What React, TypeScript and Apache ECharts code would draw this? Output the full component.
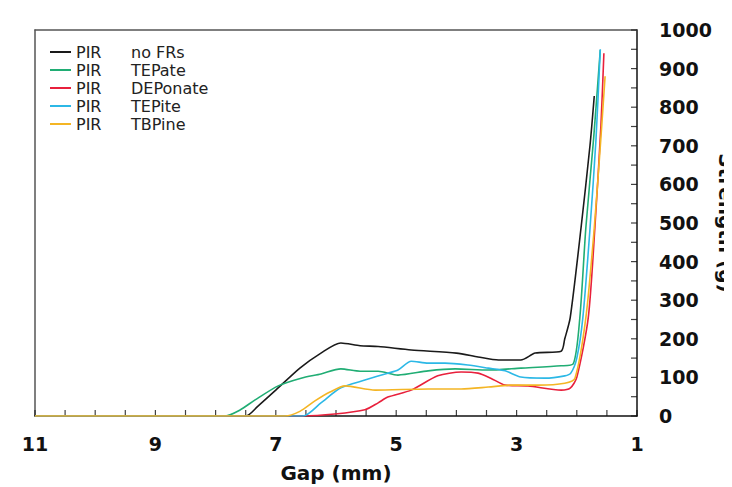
import React, { useEffect, useRef } from "react";
import * as echarts from "echarts";

const seriesNames = ["PIR no FRs", "PIR TEPate", "PIR DEPonate", "PIR TEPite", "PIR TBPine"];
const seriesColors = ["#1a1a1a", "#20ad74", "#e8203c", "#2cb8e6", "#f4b524"];

const noFrGap = [11, 7.5, 7.3, 7.0, 6.6, 6.25, 5.92, 5.6, 5.3, 4.75, 4.0, 3.64, 3.3, 2.93, 2.69, 2.26, 2.2, 2.11, 1.93, 1.78, 1.71];
const noFrVal = [0, 0, 25, 67, 124, 163, 189, 182, 180, 171, 163, 153, 145, 145, 163, 168, 200, 254, 487, 702, 829];

const tepateGap = [11, 7.84, 7.6, 7.35, 6.96, 6.58, 6.25, 5.92, 5.6, 5.3, 4.97, 4.47, 4.02, 3.47, 2.93, 2.26, 2.06, 1.95, 1.85, 1.72, 1.61];
const tepateVal = [0, 0, 15, 41, 78, 98, 109, 122, 116, 116, 106, 117, 122, 119, 124, 130, 135, 254, 487, 720, 948];

const deponateGap = [11, 6.55, 6.02, 5.52, 5.3, 5.14, 4.75, 4.31, 3.92, 3.64, 3.43, 3.19, 2.81, 2.26, 2.11, 2.0, 1.81, 1.7, 1.6, 1.55];
const deponateVal = [0, 0, 5, 16, 34, 49, 67, 104, 114, 111, 98, 80, 78, 67, 72, 100, 254, 487, 750, 940];

const tepiteGap = [11, 6.55, 6.25, 5.92, 5.52, 5.14, 4.97, 4.75, 4.47, 4.19, 3.81, 3.47, 3.19, 2.93, 2.53, 2.2, 2.1, 2.0, 1.9, 1.78, 1.68, 1.61];
const tepiteVal = [0, 0, 34, 73, 93, 111, 119, 142, 137, 137, 132, 124, 117, 101, 98, 104, 111, 150, 254, 487, 720, 950];

const tbpineGap = [11, 6.85, 6.6, 6.35, 6.1, 5.85, 5.35, 4.47, 3.92, 3.47, 3.09, 2.64, 2.2, 2.03, 1.85, 1.71, 1.6, 1.53];
const tbpineVal = [0, 0, 12, 39, 62, 78, 67, 70, 70, 75, 80, 80, 85, 98, 254, 487, 720, 880];

const gapSets = [noFrGap, tepateGap, deponateGap, tepiteGap, tbpineGap];
const valSets = [noFrVal, tepateVal, deponateVal, tepiteVal, tbpineVal];

const xTickValues = [1, 1.5, 2, 2.5, 3, 3.5, 4, 4.5, 5, 5.5, 6, 6.5, 7, 7.5, 8, 8.5, 9, 9.5, 10, 10.5, 11];
const yTickValues = [0, 50, 100, 150, 200, 250, 300, 350, 400, 450, 500, 550, 600, 650, 700, 750, 800, 850, 900, 950, 1000];

const xTicks = { min: 1, max: 11, interval: 0.5 };
const yTicks = { min: 0, max: 1000, interval: 50 };

export default function App() {
  const ref = useRef<HTMLDivElement>(null);
  useEffect(() => {
    if (!ref.current) return;
    const chart = echarts.init(ref.current, null, { renderer: "svg" });
    const boldFont = "DejaVu Sans";
    const frameAxis = {
      type: "value",
      axisLine: { show: true, onZero: false, lineStyle: { color: "#555555", width: 1.5 } },
      axisTick: { show: false },
      axisLabel: { show: false },
      splitLine: { show: false },
    };
    chart.setOption({
      animation: false,
      backgroundColor: "#ffffff",
      tooltip: { show: false },
      grid: {
        left: 27,
        right: 103,
        top: 22,
        bottom: 79,
        show: false,
        outerBoundsMode: "none",
        containLabel: false,
      },
      legend: {
        orient: "vertical",
        left: 37,
        top: 31,
        icon: "rect",
        itemWidth: 21,
        itemHeight: 2,
        itemGap: 2,
        data: seriesNames,
        formatter: (name: string) => `{a|PIR}{b|${name.slice(4)}}`,
        textStyle: {
          fontFamily: "DejaVu Sans",
          fontSize: 16,
          color: "#222",
          rich: {
            a: { width: 55, fontFamily: "DejaVu Sans", fontSize: 16, color: "#222", lineHeight: 17 },
            b: { fontFamily: "DejaVu Sans", fontSize: 16, color: "#222", lineHeight: 17 },
          },
        },
      },
      xAxis: [
        {
          type: "value",
          position: "bottom",
          inverse: true,
          min: xTicks.min,
          max: xTicks.max,
          interval: xTicks.interval,
          name: "Gap (mm)",
          nameLocation: "middle",
          nameGap: 47,
          nameMoveOverlap: false,
          nameTextStyle: { fontFamily: boldFont, fontWeight: "bold", fontSize: 20, color: "#111" },
          axisLine: { show: true, onZero: false, lineStyle: { color: "#111", width: 1.5 } },
          axisTick: { show: false },
          splitLine: { show: false },
          axisLabel: {
            margin: 18,
            interval: 0,
            fontFamily: boldFont,
            fontWeight: "bold",
            fontSize: 19,
            color: "#111",
            formatter: (v: number) => (Math.abs(v % 2 - 1) < 1e-6 ? String(v) : ""),
          },
        },
        { ...frameAxis, position: "top", inverse: true, min: xTicks.min, max: xTicks.max },
      ],
      yAxis: [
        {
          type: "value",
          position: "right",
          min: yTicks.min,
          max: yTicks.max,
          interval: yTicks.interval,
          name: "Strength (g)",
          nameLocation: "middle",
          nameRotate: -90,
          nameGap: 79,
          nameMoveOverlap: false,
          nameTextStyle: { fontFamily: boldFont, fontWeight: "bold", fontSize: 20, color: "#111" },
          axisLine: { show: true, onZero: false, lineStyle: { color: "#111", width: 1.5 } },
          axisTick: { show: false },
          splitLine: { show: false },
          axisLabel: {
            margin: 22,
            interval: 0,
            fontFamily: boldFont,
            fontWeight: "bold",
            fontSize: 19,
            color: "#111",
            formatter: (v: number) => (v % 100 === 0 ? String(v) : ""),
          },
        },
        { ...frameAxis, position: "left", min: yTicks.min, max: yTicks.max },
      ],
      series: [
        ...seriesNames.map((name, i) => ({
          name,
          type: "line",
          xAxisIndex: 0,
          yAxisIndex: 0,
          symbol: "none",
          smooth: 0.25,
          color: seriesColors[i],
          lineStyle: { width: 1.6, color: seriesColors[i] },
          data: gapSets[i].map((g, j) => [g, valSets[i][j]]),
        })),
        {
          name: "x axis ticks",
          type: "scatter",
          xAxisIndex: 0,
          yAxisIndex: 0,
          silent: true,
          clip: false,
          symbol: "rect",
          symbolSize: [1.2, 6],
          symbolOffset: [0, -3],
          itemStyle: { color: "#111" },
          data: xTickValues.map((g) => [g, yTicks.min]),
        },
        {
          name: "y axis ticks",
          type: "scatter",
          xAxisIndex: 0,
          yAxisIndex: 0,
          silent: true,
          clip: false,
          symbol: "rect",
          symbolSize: [6, 1.2],
          symbolOffset: [-3, 0],
          itemStyle: { color: "#111" },
          data: yTickValues.map((v) => [xTicks.min, v]),
        },
      ],
    });
    return () => chart.dispose();
  }, []);
  return (
    <div
      ref={ref}
      style={{ position: "fixed", left: 0, top: 0, width: 732, height: 487 }}
    />
  );
}
